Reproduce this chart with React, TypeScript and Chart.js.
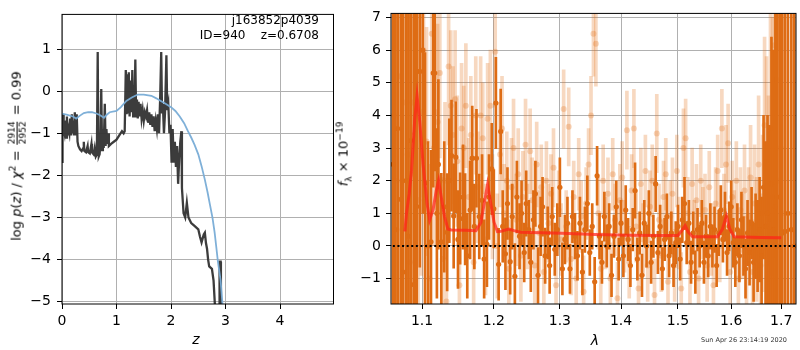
import React, { useEffect, useRef } from 'react';
import { Chart, registerables } from 'chart.js';

Chart.register(...registerables);

// ---------- left panel: log p(z) ----------
const zTicks = [0, 1, 2, 3, 4];
const logpTicks = [-5, -4, -3, -2, -1, 0, 1];

const pzZ = [0.0, 0.01, 0.02, 0.03, 0.045, 0.06, 0.075, 0.09, 0.105, 0.12, 0.135, 0.15, 0.165, 0.18, 0.19, 0.205, 0.22, 0.235, 0.25, 0.27, 0.285, 0.3, 0.33, 0.36, 0.39, 0.4, 0.41, 0.44, 0.47, 0.48, 0.51, 0.54, 0.55, 0.58, 0.6, 0.62, 0.64, 0.655, 0.665, 0.675, 0.69, 0.705, 0.72, 0.735, 0.75, 0.765, 0.785, 0.8, 0.815, 0.83, 0.845, 0.86, 0.9, 0.95, 1.0, 1.05, 1.1, 1.13, 1.15, 1.17, 1.185, 1.2, 1.215, 1.225, 1.24, 1.26, 1.275, 1.29, 1.305, 1.32, 1.33, 1.345, 1.36, 1.375, 1.39, 1.405, 1.42, 1.44, 1.46, 1.48, 1.5, 1.52, 1.54, 1.56, 1.58, 1.6, 1.62, 1.64, 1.66, 1.68, 1.7, 1.72, 1.74, 1.76, 1.78, 1.8, 1.82, 1.835, 1.85, 1.87, 1.89, 1.915, 1.93, 1.95, 1.97, 1.99, 2.01, 2.03, 2.05, 2.07, 2.09, 2.11, 2.13, 2.15, 2.17, 2.19, 2.2, 2.23, 2.26, 2.29, 2.32, 2.37, 2.43, 2.5, 2.53, 2.56, 2.6, 2.62, 2.64, 2.66, 2.68, 2.7, 2.75, 2.78, 2.81, 2.885, 2.89, 2.91, 2.915];
const pzLogp = [-1.68, -1.0, -0.55, -0.9, -1.0, -0.7, -1.1, -0.6, -1.05, -0.9, -1.0, -0.65, -1.05, -0.55, -1.0, -0.7, -1.05, -0.5, -1.05, -0.55, -1.2, -1.3, -1.38, -1.42, -1.35, -1.2, -1.42, -1.45, -1.3, -1.45, -1.48, -1.25, -1.45, -1.5, -1.35, -1.55, -1.5, 0.93, -1.0, -1.55, -1.5, -1.2, 0.05, -1.4, -0.9, -1.35, -0.3, -1.3, -0.9, -1.25, -1.0, -1.3, -1.25, -1.2, -1.15, -1.05, -0.95, -1.0, -0.95, 0.5, -0.55, 0.4, -0.5, 0.45, -0.6, 0.25, -0.5, 0.5, -0.6, 0.1, -0.5, 0.75, -0.6, -0.2, -0.65, -0.25, -0.6, -0.3, -0.65, -0.45, -0.7, -0.5, -0.6, -0.45, -0.75, -0.5, -0.8, -0.55, -0.85, -0.6, -0.95, -0.7, -0.9, -0.55, -1.0, -0.2, 0.93, -0.5, -0.3, -1.0, -0.5, 0.85, -0.45, -0.3, -1.0, -0.8, -1.7, -0.9, -1.7, -1.2, -1.8, -1.3, -2.2, -1.6, -1.2, -0.95, -2.3, -2.9, -3.0, -2.65, -3.0, -3.13, -3.2, -3.28, -3.45, -3.59, -3.4, -3.36, -3.6, -3.74, -4.0, -4.16, -4.22, -4.5, -5.2, -5.2, -4.05, -4.05, -5.2];

const priorZ = [0.0, 0.1, 0.2, 0.26, 0.33, 0.4, 0.48, 0.55, 0.63, 0.7, 0.77, 0.82, 0.875, 1.0, 1.08, 1.18, 1.28, 1.39, 1.5, 1.64, 1.73, 1.82, 1.9, 2.0, 2.08, 2.16, 2.24, 2.31, 2.37, 2.43, 2.5, 2.56, 2.62, 2.67, 2.71, 2.76, 2.8, 2.83, 2.86, 2.91, 2.94, 2.96];
const priorLogp = [-0.53, -0.56, -0.6, -0.65, -0.58, -0.52, -0.5, -0.5, -0.53, -0.57, -0.63, -0.56, -0.5, -0.47, -0.38, -0.23, -0.15, -0.08, -0.08, -0.11, -0.17, -0.24, -0.3, -0.38, -0.47, -0.6, -0.76, -0.95, -1.1, -1.27, -1.5, -1.78, -2.1, -2.4, -2.67, -3.0, -3.36, -3.7, -4.05, -4.5, -5.0, -5.3];

// ---------- right panel: spectrum ----------
const lamTicks = [1.1, 1.2, 1.3, 1.4, 1.5, 1.6, 1.7];
const fluxTicks = [-1, 0, 1, 2, 3, 4, 5, 6, 7];
const zeroLineLam = [1.05, 1.74];

// [lambda, flux, error]
const darkPoints: [number, number, number][] = [
  [1.062, 2.5, 12], [1.065, 0.5, 12], [1.068, 3.6, 12], [1.072, 1.43, 12], [1.075, -0.8, 12],
  [1.079, 2.0, 12], [1.082, 0.3, 12], [1.085, 3.23, 12], [1.089, -1.18, 12], [1.091, 3.44, 8],
  [1.093, 1.21, 8], [1.097, 5.35, 6], [1.101, 6.0, 5], [1.104, 1.93, 4], [1.108, 0.0, 3.2],
  [1.112, 0.13, 2.8], [1.115, 5.3, 3.5], [1.117, 5.3, 3.0], [1.12, 1.0, 2.6], [1.122, 2.5, 2.6],
  [1.126, 0.13, 2.1], [1.13, 1.2, 2.0], [1.134, 0.42, 1.8], [1.137, 2.0, 1.9], [1.14, 2.77, 1.7],
  [1.143, 0.92, 1.6], [1.146, 2.72, 1.7], [1.149, 0.2, 1.5], [1.152, 0.84, 1.4], [1.156, 1.5, 1.6],
  [1.159, 0.82, 1.4], [1.162, -0.3, 1.3], [1.166, 1.1, 1.5], [1.169, 2.69, 1.6], [1.172, 0.6, 1.3],
  [1.175, 2.69, 1.5], [1.179, 0.9, 1.3], [1.183, 1.4, 1.4], [1.186, -0.4, 1.2], [1.19, 0.05, 1.3],
  [1.193, 1.5, 1.3], [1.197, 2.36, 1.4], [1.2, 1.14, 1.2], [1.203, 4.38, 1.4], [1.207, -0.56, 1.1],
  [1.21, 3.51, 1.3], [1.213, 0.6, 1.1], [1.217, -0.24, 1.1], [1.22, 1.3, 1.1], [1.224, -0.48, 1.0],
  [1.227, 0.9, 1.0], [1.231, -0.93, 1.0], [1.234, 1.5, 1.1], [1.238, 0.3, 1.0], [1.241, 1.0, 1.0],
  [1.245, -0.2, 0.9], [1.248, 1.3, 1.0], [1.252, 0.5, 0.9], [1.255, -0.5, 0.9], [1.259, 0.8, 0.9],
  [1.262, 1.6, 1.0], [1.266, -0.9, 0.85], [1.27, 0.6, 0.9], [1.273, 1.2, 0.9], [1.277, -0.3, 0.85],
  [1.281, 0.4, 0.8], [1.284, -0.6, 0.85], [1.288, 0.9, 0.9], [1.292, -0.1, 0.8], [1.296, 0.5, 0.8],
  [1.3, 1.8, 0.9], [1.304, -0.7, 0.8], [1.308, 0.2, 0.75], [1.312, 0.7, 0.8], [1.316, -0.7, 0.75],
  [1.32, 0.9, 0.8], [1.324, 0.3, 0.7], [1.328, -0.3, 0.75], [1.332, 0.7, 0.8], [1.336, -0.8, 0.7],
  [1.34, 0.5, 0.7], [1.344, 1.3, 0.85], [1.348, -0.2, 0.7], [1.352, 0.6, 0.7], [1.356, -1.1, 0.75],
  [1.36, 2.15, 0.9], [1.364, 0.3, 0.7], [1.368, -0.5, 0.65], [1.372, 0.9, 0.75], [1.376, 0.0, 0.65],
  [1.38, 0.6, 0.7], [1.384, -0.9, 0.65], [1.388, 0.3, 0.65], [1.392, 1.2, 0.8], [1.396, -0.4, 0.65],
  [1.4, 0.7, 0.7], [1.404, -0.3, 0.65], [1.408, 1.1, 0.75], [1.412, 0.2, 0.65], [1.416, -0.6, 0.65],
  [1.42, 0.5, 0.65], [1.424, 1.7, 0.85], [1.428, -0.4, 0.65], [1.432, 0.4, 0.65], [1.436, -0.9, 0.65],
  [1.44, 0.7, 0.7], [1.444, 0.0, 0.65], [1.448, 1.0, 0.7], [1.452, -0.5, 0.65], [1.456, 0.3, 0.65],
  [1.46, 1.9, 0.85], [1.464, -0.2, 0.65], [1.468, 0.6, 0.65], [1.472, -0.7, 0.65], [1.476, 0.2, 0.65],
  [1.48, 0.9, 0.7], [1.484, -0.3, 0.65], [1.488, 0.4, 0.65], [1.492, -0.6, 0.65], [1.496, 0.1, 0.65],
  [1.5, 0.6, 0.65], [1.504, -0.4, 0.65], [1.508, 0.8, 0.7], [1.512, 1.3, 0.8], [1.516, 0.1, 0.65],
  [1.52, 0.7, 0.7], [1.524, -0.5, 0.65], [1.528, 0.4, 0.65], [1.532, -0.8, 0.65], [1.536, 0.5, 0.65],
  [1.54, 0.0, 0.65], [1.544, 0.7, 0.7], [1.548, -0.5, 0.65], [1.552, 0.3, 0.65], [1.556, -0.3, 0.65],
  [1.56, 0.6, 0.7], [1.564, 0.0, 0.65], [1.568, 0.5, 0.7], [1.572, -0.6, 0.65], [1.576, 0.4, 0.7],
  [1.58, 1.1, 0.75], [1.584, 0.2, 0.7], [1.588, 0.9, 0.75], [1.592, -0.2, 0.7], [1.596, 0.6, 0.75],
  [1.6, 1.2, 0.8], [1.604, 0.1, 0.75], [1.608, -0.5, 0.75], [1.612, 0.5, 0.8], [1.616, -0.3, 0.8],
  [1.62, 0.8, 0.85], [1.624, 0.0, 0.9], [1.628, -0.7, 0.9], [1.632, 0.4, 1.0], [1.636, -0.2, 1.0],
  [1.64, 0.7, 1.1], [1.644, -0.5, 1.2], [1.648, 0.3, 1.3], [1.652, 0.0, 1.4], [1.656, 0.5, 1.6],
  [1.66, -0.3, 1.8], [1.664, 1.8, 2.2], [1.668, 0.6, 2.6], [1.672, 1.0, 3.0], [1.676, 0.2, 3.5],
  [1.68, 1.9, 4.5], [1.684, 0.5, 5.5], [1.688, 1.2, 7], [1.692, 0.0, 12], [1.697, 1.5, 12],
  [1.702, 0.4, 12], [1.708, 0.45, 12], [1.714, 1.0, 12], [1.721, 0.5, 12], [1.727, 0.0, 12],
];

const lightPoints: [number, number, number][] = [
  [1.063, 4.0, 12], [1.067, 2.0, 12], [1.071, 5.2, 12], [1.074, 0.5, 12], [1.078, 4.4, 12],
  [1.081, 2.8, 12], [1.084, -0.5, 12], [1.087, 4.4, 10], [1.09, 2.2, 8], [1.095, 1.4, 6],
  [1.099, 4.1, 5], [1.102, 6.0, 4.5], [1.106, 3.2, 3.5], [1.11, -1.0, 3.5], [1.113, 6.5, 3.5],
  [1.116, 3.0, 3.0], [1.119, 4.1, 3.0], [1.121, 3.8, 3.0], [1.124, 5.3, 2.6], [1.128, -0.4, 2.5],
  [1.131, 2.0, 2.4], [1.133, -1.7, 2.2], [1.136, 5.5, 2.4], [1.139, 4.3, 2.3], [1.142, 3.4, 2.1],
  [1.145, 4.5, 2.1], [1.148, 2.6, 2.0], [1.151, -1.2, 1.9], [1.154, 3.6, 2.0], [1.157, 3.0, 1.9],
  [1.16, 4.3, 1.9], [1.164, 1.5, 1.8], [1.167, 3.4, 1.8], [1.171, -0.5, 1.7], [1.174, 4.0, 1.8],
  [1.177, 1.8, 1.7], [1.181, 4.0, 1.8], [1.184, 3.3, 1.7], [1.188, 0.2, 1.7], [1.191, 3.9, 1.7],
  [1.195, 4.3, 1.7], [1.198, 1.2, 1.6], [1.202, 5.95, 1.7], [1.205, 0.0, 1.6], [1.209, 2.8, 1.6],
  [1.212, 3.6, 1.6], [1.215, 1.0, 1.5], [1.219, 2.0, 1.5], [1.222, -0.7, 1.5], [1.226, 1.8, 1.5],
  [1.229, 3.0, 1.5], [1.233, 0.8, 1.4], [1.236, 2.2, 1.4], [1.24, -0.3, 1.4], [1.243, 1.5, 1.4],
  [1.247, 3.1, 1.4], [1.25, 0.6, 1.3], [1.254, 2.9, 1.3], [1.257, 1.4, 1.3], [1.261, -0.6, 1.3],
  [1.264, 2.5, 1.3], [1.268, 0.4, 1.3], [1.271, 1.8, 1.3], [1.275, -0.8, 1.2], [1.279, 2.0, 1.2],
  [1.282, 0.7, 1.2], [1.286, 1.6, 1.2], [1.29, 2.4, 1.2], [1.294, -1.2, 1.2], [1.298, 1.1, 1.2],
  [1.302, 0.2, 1.1], [1.306, 4.2, 1.2], [1.31, 0.6, 1.1], [1.314, 3.65, 1.2], [1.318, -0.4, 1.1],
  [1.322, 1.5, 1.1], [1.326, -1.0, 1.1], [1.33, 2.2, 1.1], [1.334, 0.9, 1.1], [1.338, -1.4, 1.1],
  [1.342, 1.3, 1.1], [1.346, 2.5, 1.1], [1.35, 4.0, 1.2], [1.354, 6.5, 1.3], [1.358, 6.2, 1.3],
  [1.362, 1.0, 1.1], [1.366, -0.7, 1.1], [1.37, 2.0, 1.1], [1.374, 0.4, 1.1], [1.378, 1.6, 1.1],
  [1.382, -1.0, 1.1], [1.386, 2.2, 1.1], [1.39, 0.8, 1.1], [1.394, -1.6, 1.1], [1.398, 1.4, 1.1],
  [1.402, 2.1, 1.1], [1.406, 0.3, 1.1], [1.41, 3.55, 1.2], [1.414, -0.5, 1.1], [1.418, 1.7, 1.1],
  [1.422, 3.6, 1.2], [1.426, 0.6, 1.1], [1.43, -1.3, 1.1], [1.434, 1.9, 1.1], [1.438, 0.2, 1.1],
  [1.442, 2.3, 1.1], [1.446, -0.6, 1.1], [1.45, 1.2, 1.1], [1.454, 2.0, 1.1], [1.458, -1.5, 1.1],
  [1.462, 3.45, 1.2], [1.466, 0.8, 1.1], [1.47, -0.3, 1.1], [1.474, 1.5, 1.1], [1.478, 2.2, 1.1],
  [1.482, -1.1, 1.1], [1.486, 0.9, 1.1], [1.49, 1.6, 1.1], [1.494, -0.6, 1.1], [1.498, 2.3, 1.1],
  [1.502, 0.4, 1.1], [1.506, -1.3, 1.1], [1.51, 3.0, 1.2], [1.514, 3.3, 1.2], [1.518, 1.0, 1.1],
  [1.522, -0.8, 1.1], [1.526, 1.9, 1.1], [1.53, 0.3, 1.1], [1.534, 1.4, 1.1], [1.538, -1.0, 1.1],
  [1.542, 2.0, 1.1], [1.546, 0.7, 1.1], [1.55, 1.1, 1.1], [1.554, -0.6, 1.1], [1.558, 1.8, 1.1],
  [1.562, 0.2, 1.1], [1.566, -1.2, 1.1], [1.57, 1.3, 1.1], [1.574, 2.3, 1.1], [1.578, 0.0, 1.1],
  [1.582, 3.6, 1.2], [1.586, 1.1, 1.1], [1.59, 2.5, 1.2], [1.594, 3.15, 1.2], [1.598, -0.8, 1.1],
  [1.602, 1.5, 1.1], [1.606, 0.5, 1.2], [1.61, 2.0, 1.2], [1.614, -1.0, 1.2], [1.618, 1.1, 1.3],
  [1.622, 0.3, 1.3], [1.626, 1.7, 1.4], [1.63, -0.5, 1.4], [1.634, 0.9, 1.5], [1.638, 2.1, 1.6],
  [1.642, -0.8, 1.6], [1.646, 1.3, 1.8], [1.65, 0.2, 1.9], [1.654, 2.5, 2.1], [1.658, -0.6, 2.2],
  [1.662, 1.0, 2.4], [1.666, 3.7, 2.7], [1.67, 2.6, 3.2], [1.674, 0.8, 3.8], [1.678, 3.6, 4.5],
  [1.682, 1.5, 5.5], [1.686, 6.15, 6.5], [1.69, 5.1, 8], [1.694, 2.0, 10], [1.699, 3.0, 12],
  [1.704, 1.0, 12],
];

const modelLam = [1.0774, 1.0795, 1.083, 1.086, 1.0904, 1.0934, 1.097, 1.1014, 1.1067, 1.1102, 1.1147, 1.1192, 1.1223, 1.1259, 1.1304, 1.135, 1.1395, 1.16, 1.1743, 1.1814, 1.1861, 1.1909, 1.1956, 1.2004, 1.2053, 1.2101, 1.2223, 1.2297, 1.2396, 1.3032, 1.3565, 1.412, 1.4697, 1.4999, 1.507, 1.5131, 1.5192, 1.5271, 1.5737, 1.5831, 1.5908, 1.5972, 1.6056, 1.658, 1.7];
const modelFlux = [0.45, 1.0, 1.6, 2.3, 3.9, 4.6, 3.8, 2.5, 1.3, 0.8, 1.1, 1.7, 2.0, 1.5, 0.9, 0.52, 0.49, 0.48, 0.47, 0.72, 1.3, 1.88, 1.3, 0.72, 0.44, 0.45, 0.52, 0.47, 0.42, 0.39, 0.35, 0.33, 0.32, 0.32, 0.47, 0.62, 0.42, 0.28, 0.28, 0.52, 0.92, 0.52, 0.28, 0.26, 0.25];

// ---------- styling ----------
const FONT = "'DejaVu Sans', sans-serif";
const GRID = '#b0b0b0';
const DARK = 'rgb(222,108,20)';
const LIGHT = 'rgba(226,112,24,0.27)';
const fmtNum = (v: number) => String(v).replace('-', '\u2212');

const framePlugin = {
  id: 'frame',
  afterDraw(chart: any) {
    const { ctx, chartArea: a } = chart;
    ctx.save();
    ctx.strokeStyle = '#000';
    ctx.lineWidth = 1;
    ctx.strokeRect(a.left, a.top, a.right - a.left, a.bottom - a.top);
    ctx.restore();
  },
};

function makeAxis(opts: {
  type: string; min: number; max: number; ticks: number[]; fit: (s: any) => void;
  padding: number; fmt: (v: number) => string; z?: number;
}) {
  return {
    type: opts.type,
    min: opts.min,
    max: opts.max,
    bounds: 'data',
    offset: false,
    z: opts.z ?? 0,
    afterBuildTicks: (s: any) => { s.ticks = opts.ticks.map((v) => ({ value: v })); },
    afterFit: opts.fit,
    grid: { color: GRID, lineWidth: 1, tickLength: 5, tickColor: '#000', tickWidth: 1, drawTicks: true, offset: false },
    border: { display: false },
    ticks: {
      color: '#000',
      font: { family: FONT, size: 14 },
      padding: opts.padding,
      autoSkip: false,
      maxRotation: 0,
      minRotation: 0,
      callback: (v: any) => opts.fmt(Number(v)),
    },
  };
}

export default function App() {
  const leftRef = useRef<HTMLCanvasElement | null>(null);
  const rightRef = useRef<HTMLCanvasElement | null>(null);

  useEffect(() => {
    const left = new Chart(leftRef.current as HTMLCanvasElement, {
      type: 'line',
      data: {
        datasets: [
          {
            data: priorZ.map((x, i) => ({ x, y: priorLogp[i] })),
            borderColor: 'rgba(120,172,214,0.95)',
            borderWidth: 1.8,
            pointRadius: 0,
            clip: 0,
            order: 0,
          },
          {
            data: pzZ.map((x, i) => ({ x, y: pzLogp[i] })),
            borderColor: 'rgba(50,50,50,0.95)',
            borderWidth: 2.3,
            pointRadius: 0,
            clip: 0,
            order: 1,
          },
        ],
      } as any,
      options: {
        animation: false,
        responsive: false,
        maintainAspectRatio: false,
        layout: { padding: { left: 0, right: 6.5, top: 3, bottom: 0 } },
        plugins: { legend: { display: false }, tooltip: { enabled: false }, title: { display: false } },
        scales: {
          x: makeAxis({ type: 'linear', min: 0, max: 4.98, ticks: zTicks, fit: (s) => { s.height = 46; }, padding: 4, fmt: fmtNum }),
          y: makeAxis({ type: 'linear', min: -5.053, max: 1.823, ticks: logpTicks, fit: (s) => { s.width = 62; }, padding: 6, fmt: fmtNum }),
        } as any,
      },
      plugins: [framePlugin],
    });

    const bars = (pts: [number, number, number][]) => pts.map(([x, f, e]) => ({ x, y: [f - e, f + e] }));
    const dots = (pts: [number, number, number][]) => pts.map(([x, f]) => ({ x, y: f }));

    const right = new Chart(rightRef.current as HTMLCanvasElement, {
      type: 'bar',
      data: {
        datasets: [
          {
            type: 'line',
            data: zeroLineLam.map((x) => ({ x, y: 0 })),
            borderColor: '#000',
            borderWidth: 2,
            borderDash: [2, 2.6],
            pointRadius: 0,
            clip: 0,
            order: 0,
          },
          {
            type: 'line',
            data: modelLam.map((x, i) => ({ x, y: modelFlux[i] })),
            borderColor: 'rgba(255,35,25,0.72)',
            borderWidth: 3,
            pointRadius: 0,
            clip: 0,
            order: 1,
          },
          {
            type: 'scatter',
            data: dots(darkPoints),
            backgroundColor: DARK,
            borderWidth: 0,
            pointRadius: 2.6,
            clip: 0,
            order: 2,
          },
          {
            type: 'bar',
            data: bars(darkPoints),
            backgroundColor: DARK,
            borderWidth: 0,
            barThickness: 2,
            grouped: false,
            clip: 0,
            order: 3,
          },
          {
            type: 'scatter',
            data: dots(lightPoints),
            backgroundColor: LIGHT,
            borderWidth: 0,
            pointRadius: 3,
            clip: 0,
            order: 4,
          },
          {
            type: 'bar',
            data: bars(lightPoints),
            backgroundColor: LIGHT,
            borderWidth: 0,
            barThickness: 3,
            grouped: false,
            clip: 0,
            order: 5,
          },
        ],
      } as any,
      options: {
        animation: false,
        responsive: false,
        maintainAspectRatio: false,
        layout: { padding: { left: 0, right: 1, top: 3, bottom: 0 } },
        plugins: { legend: { display: false }, tooltip: { enabled: false }, title: { display: false } },
        scales: {
          x: makeAxis({ type: 'logarithmic', min: 1.0594, max: 1.7307, ticks: lamTicks, fit: (s) => { s.height = 46; }, padding: 4, fmt: (v) => v.toFixed(1), z: 1 }),
          y: makeAxis({ type: 'linear', min: -1.778, max: 7.127, ticks: fluxTicks, fit: (s) => { s.width = 51; }, padding: 5, fmt: fmtNum, z: 1 }),
        } as any,
      },
      plugins: [framePlugin],
    });

    return () => {
      left.destroy();
      right.destroy();
    };
  }, []);

  const text: React.CSSProperties = { position: 'absolute', fontFamily: FONT, color: '#000', whiteSpace: 'pre', margin: 0 };
  const frac: React.CSSProperties = { display: 'inline-flex', flexDirection: 'column', alignItems: 'center', fontSize: 9, lineHeight: '9px', verticalAlign: 'middle', margin: '0 2px' };

  return (
    <div style={{ position: 'absolute', left: 0, top: 0, width: 800, height: 350, background: '#fff', overflow: 'hidden' }}>
      <canvas ref={leftRef} width={340} height={350} style={{ position: 'absolute', left: 0, top: 0, width: 340, height: 350 }} />
      <canvas ref={rightRef} width={460} height={350} style={{ position: 'absolute', left: 340, top: 0, width: 460, height: 350 }} />

      {/* left y label */}
      <div style={{ ...text, left: 16, top: 156, fontSize: 13, lineHeight: '16px', transform: 'translate(-50%, -50%) rotate(-90deg)' }}>
        log <i>p</i>(<i>z</i>) / <i>χ</i><sup style={{ fontSize: 9 }}>2</sup> ={' '}
        <span style={frac}>
          <span>2914</span>
          <span style={{ borderTop: '1px solid #000', paddingTop: 1 }}>2952</span>
        </span>{' '}= 0.99
      </div>

      {/* right y label */}
      <div style={{ ...text, left: 344, top: 154, fontSize: 13, lineHeight: '16px', transform: 'translate(-50%, -50%) rotate(-90deg)' }}>
        <i>f</i><sub style={{ fontSize: 9 }}>λ</sub> × 10<sup style={{ fontSize: 9 }}>−19</sup>
      </div>

      {/* x labels */}
      <div style={{ ...text, left: 196, top: 331, fontSize: 14, lineHeight: '16px', transform: 'translateX(-50%)', fontStyle: 'italic' }}>z</div>
      <div style={{ ...text, left: 595, top: 332, fontSize: 14, lineHeight: '16px', transform: 'translateX(-50%)', fontStyle: 'italic' }}>λ</div>

      {/* annotation */}
      <div style={{ ...text, right: 800 - 319, top: 13, fontSize: 12, lineHeight: '15px', textAlign: 'right' }}>
        {'j163852p4039\nID=940    z=0.6708'}
      </div>

      {/* timestamp */}
      <div style={{ ...text, right: 800 - 787, top: 336, fontSize: 6.5, lineHeight: '8px', color: '#333' }}>
        Sun Apr 26 23:14:19 2020
      </div>
    </div>
  );
}
